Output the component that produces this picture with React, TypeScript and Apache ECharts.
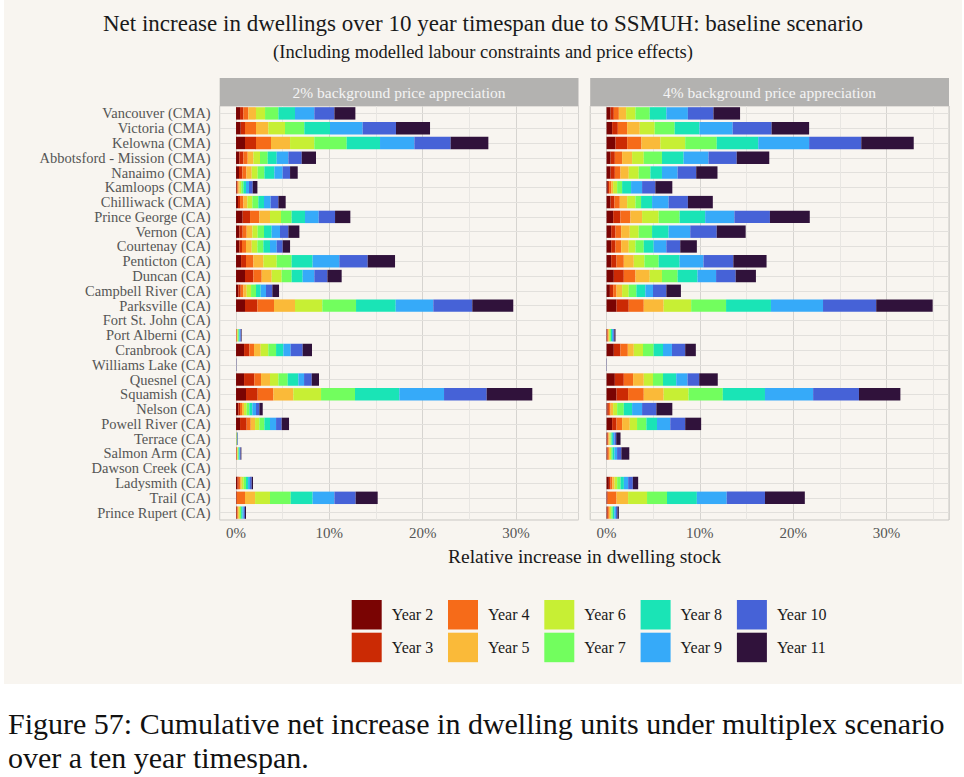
import React, { useEffect, useRef } from "react";
import * as echarts from "echarts";

const years = ["Year 2", "Year 3", "Year 4", "Year 5", "Year 6", "Year 7", "Year 8", "Year 9", "Year 10", "Year 11"];
const yearColors = ["#7A0403", "#CB2A04", "#F66B19", "#FABA39", "#C7EF34", "#72FE5E", "#1AE4B6", "#36AAF9", "#4662D7", "#30123B"];

const cities = [
  "Vancouver (CMA)", "Victoria (CMA)", "Kelowna (CMA)", "Abbotsford - Mission (CMA)", "Nanaimo (CMA)",
  "Kamloops (CMA)", "Chilliwack (CMA)", "Prince George (CA)", "Vernon (CA)", "Courtenay (CA)",
  "Penticton (CA)", "Duncan (CA)", "Campbell River (CA)", "Parksville (CA)", "Fort St. John (CA)",
  "Port Alberni (CA)", "Cranbrook (CA)", "Williams Lake (CA)", "Quesnel (CA)", "Squamish (CA)",
  "Nelson (CA)", "Powell River (CA)", "Terrace (CA)", "Salmon Arm (CA)", "Dawson Creek (CA)",
  "Ladysmith (CA)", "Trail (CA)", "Prince Rupert (CA)",
];

const panelTitles = ["2% background price appreciation", "4% background price appreciation"];

// Yearly increments (% of dwelling stock), rows follow `cities`, columns follow `years`
const growth2: number[][] = [
  [0.43, 0.36, 0.53, 0.82, 0.97, 1.43, 1.78, 2.07, 2.15, 2.25],
  [0.5, 0.46, 1.18, 1.32, 1.79, 2.07, 2.75, 3.5, 3.57, 3.65],
  [0.96, 1.18, 1.61, 2.04, 2.6, 3.47, 3.57, 3.68, 3.89, 4.04],
  [0.36, 0.43, 0.46, 0.61, 0.71, 0.82, 0.97, 1.25, 1.43, 1.53],
  [0.32, 0.36, 0.43, 0.57, 0.64, 0.72, 1.07, 0.89, 0.79, 0.82],
  [0.07, 0.07, 0.11, 0.14, 0.18, 0.22, 0.28, 0.32, 0.4, 0.5],
  [0.21, 0.22, 0.36, 0.42, 0.54, 0.64, 0.61, 0.71, 0.83, 0.78],
  [0.71, 0.79, 1.0, 1.14, 1.18, 1.14, 1.43, 1.47, 1.75, 1.64],
  [0.36, 0.35, 0.43, 0.61, 0.57, 0.68, 0.82, 0.89, 0.9, 1.18],
  [0.36, 0.28, 0.43, 0.61, 0.61, 0.64, 0.71, 0.72, 0.64, 0.79],
  [0.54, 0.53, 0.79, 1.07, 1.43, 1.6, 2.25, 2.86, 3.04, 2.93],
  [0.96, 0.9, 0.89, 1.07, 1.07, 1.07, 1.18, 1.25, 1.4, 1.53],
  [0.25, 0.25, 0.29, 0.35, 0.47, 0.53, 0.5, 0.57, 0.68, 0.72],
  [0.96, 1.33, 1.78, 2.25, 2.93, 3.61, 4.25, 4.03, 4.18, 4.39],
  [0, 0, 0, 0, 0, 0, 0, 0, 0, 0],
  [0.02, 0.03, 0.04, 0.05, 0.07, 0.08, 0.08, 0.09, 0.08, 0.06],
  [0.86, 0.57, 0.5, 0.71, 0.82, 0.83, 0.78, 0.79, 1.28, 1.0],
  [0, 0, 0, 0, 0, 0, 0, 0, 0.02, 0.02],
  [0.86, 1.1, 0.72, 0.96, 0.9, 1.0, 1.14, 0.61, 0.82, 0.78],
  [1.07, 1.25, 1.68, 2.14, 2.97, 3.64, 4.75, 4.79, 4.57, 4.89],
  [0.25, 0.18, 0.21, 0.22, 0.28, 0.29, 0.32, 0.39, 0.36, 0.36],
  [0.43, 0.71, 0.43, 0.47, 0.46, 0.54, 0.6, 0.65, 0.6, 0.79],
  [0.01, 0.01, 0.01, 0.02, 0.02, 0.02, 0.03, 0.03, 0.03, 0.02],
  [0.03, 0.03, 0.04, 0.05, 0.06, 0.07, 0.07, 0.08, 0.07, 0.07],
  [0, 0, 0, 0, 0, 0, 0, 0, 0, 0],
  [0.14, 0.15, 0.14, 0.18, 0.21, 0.25, 0.22, 0.21, 0.18, 0.14],
  [0.05, 0.05, 0.86, 1.08, 1.6, 2.22, 2.35, 2.33, 2.28, 2.36],
  [0.06, 0.06, 0.08, 0.1, 0.12, 0.13, 0.14, 0.14, 0.12, 0.12],
];

const growth4: number[][] = [
  [0.43, 0.35, 0.54, 0.78, 1.0, 1.53, 1.78, 2.31, 2.74, 2.85],
  [0.6, 0.61, 1.0, 1.35, 1.6, 2.14, 2.66, 3.56, 4.17, 4.02],
  [0.96, 1.25, 1.53, 2.03, 2.66, 3.38, 4.45, 5.45, 5.59, 5.62],
  [0.43, 0.46, 0.78, 1.07, 1.25, 1.95, 2.32, 2.67, 3.02, 3.49],
  [0.43, 0.46, 0.6, 0.89, 1.07, 1.25, 1.24, 1.68, 1.99, 2.28],
  [0.14, 0.14, 0.22, 0.21, 0.43, 0.53, 0.96, 1.18, 1.42, 1.82],
  [0.43, 0.42, 0.57, 0.79, 0.89, 0.6, 1.18, 1.77, 2.07, 2.67],
  [0.71, 0.78, 1.07, 1.25, 1.78, 2.24, 2.74, 3.13, 3.81, 4.27],
  [0.5, 0.46, 0.61, 0.92, 0.96, 1.43, 1.77, 2.32, 2.84, 3.1],
  [0.5, 0.46, 0.61, 0.81, 0.72, 0.89, 1.06, 1.36, 1.49, 1.78],
  [0.5, 0.57, 0.78, 1.07, 1.14, 1.53, 2.24, 2.56, 3.2, 3.56],
  [0.78, 1.07, 1.25, 1.53, 1.31, 1.68, 2.13, 1.99, 2.1, 2.17],
  [0.36, 0.35, 0.36, 0.6, 0.71, 0.82, 0.96, 0.82, 1.43, 1.56],
  [1.07, 1.31, 1.61, 2.13, 2.95, 3.74, 4.81, 5.58, 5.7, 6.05],
  [0, 0, 0, 0, 0, 0, 0, 0, 0, 0],
  [0.05, 0.06, 0.07, 0.08, 0.1, 0.11, 0.12, 0.13, 0.12, 0.12],
  [0.78, 0.71, 0.79, 0.64, 0.99, 1.14, 1.0, 0.96, 1.42, 1.14],
  [0, 0, 0, 0, 0, 0, 0, 0, 0.02, 0.02],
  [0.89, 0.96, 1.0, 1.14, 0.99, 1.07, 1.42, 1.21, 1.25, 1.99],
  [1.07, 1.24, 1.68, 2.13, 2.67, 3.67, 4.52, 5.16, 4.91, 4.44],
  [0.11, 0.14, 0.18, 0.28, 0.43, 0.71, 0.89, 1.07, 1.53, 1.71],
  [0.6, 0.47, 0.6, 0.82, 0.78, 1.0, 1.14, 1.42, 1.6, 1.71],
  [0.07, 0.07, 0.07, 0.11, 0.11, 0.11, 0.14, 0.18, 0.18, 0.46],
  [0.07, 0.07, 0.11, 0.11, 0.14, 0.14, 0.21, 0.28, 0.46, 0.85],
  [0, 0, 0, 0, 0, 0, 0, 0, 0, 0],
  [0.25, 0.18, 0.18, 0.25, 0.28, 0.36, 0.36, 0.46, 0.5, 0.57],
  [0.07, 0.07, 0.93, 1.24, 2.03, 2.14, 3.2, 3.2, 4.1, 4.27],
  [0.07, 0.08, 0.1, 0.12, 0.14, 0.16, 0.17, 0.17, 0.16, 0.15],
];

const minorTicks = [5, 15, 25, 35];

const FONT = "Liberation Serif";

export default function App() {
  const ref = useRef<HTMLDivElement>(null);

  useEffect(() => {
    if (!ref.current) return;
    const chart = echarts.init(ref.current, undefined, { renderer: "svg" });

    const panelData = [growth2, growth4];
    const gridLefts = [219.7, 590.2];
    const gridW = 358.8;
    const gridTop = 106;
    const gridH = 414;

    const series: any[] = [];
    panelData.forEach((rows, p) => {
      series.push({
        type: "scatter",
        xAxisIndex: p,
        yAxisIndex: p,
        data: [],
        silent: true,
        z: 1,
        markLine: {
          silent: true,
          symbol: ["none", "none"],
          label: { show: false },
          z: 1,
          data: [
            ...cities.map((c) => ({ yAxis: c, lineStyle: { color: "#e2e0dc", width: 1, type: "solid" } })),
            ...minorTicks.map((v) => ({ xAxis: v, lineStyle: { color: "#e8e6e2", width: 1, type: "solid" } })),
          ],
        },
      });
      years.forEach((y, i) => {
        series.push({
          type: "bar",
          name: y,
          stack: "panel" + p,
          xAxisIndex: p,
          yAxisIndex: p,
          barCategoryGap: "16%",
          z: 10,
          itemStyle: { color: yearColors[i] },
          data: rows.map((r) => r[i]),
        });
      });
    });

    const legends = years.map((y, i) => ({
      data: [y],
      left: 351.7 + Math.floor(i / 2) * 96.3,
      top: i % 2 === 0 ? 600 : 632.7,
      orient: "horizontal",
      itemWidth: 30,
      itemHeight: 29.5,
      icon: "rect",
      padding: 0,
      selectedMode: false,
      textStyle: { fontFamily: FONT, fontSize: 16, color: "#1a1a1a", padding: [0, 0, 0, 5] },
    }));

    const option: any = {
      animation: false,
      backgroundColor: "#ffffff",
      grid: gridLefts.map((l) => ({
        left: l,
        top: gridTop,
        width: gridW,
        height: gridH,
        show: true,
        backgroundColor: "transparent",
        borderColor: "#c9c7c3",
        borderWidth: 1,
        containLabel: false,
      })),
      xAxis: gridLefts.map((_, p) => ({
        type: "value",
        gridIndex: p,
        min: -1.75,
        max: 36.7,
        axisLine: { show: false },
        axisTick: { show: false },
        axisLabel: {
          color: "#555555",
          fontFamily: FONT,
          fontSize: 15,
          margin: 5,
          formatter: (v: number) => (Math.abs(v % 10) < 1e-6 ? `${Math.round(v)}%` : ""),
        },
        splitLine: { show: true, lineStyle: { color: "#d6d4d0", width: 1 } },
      })),
      yAxis: gridLefts.map((_, p) => ({
        type: "category",
        gridIndex: p,
        data: cities,
        inverse: true,
        axisLine: { show: false },
        axisTick: { show: p === 0, length: 4, alignWithLabel: true, lineStyle: { color: "#9a9a9a" } },
        axisLabel: {
          show: p === 0,
          color: "#555555",
          fontFamily: FONT,
          fontSize: 14.5,
          lineHeight: 14,
          margin: 9,
          interval: 0,
        },
        splitLine: { show: false },
      })),
      legend: legends,
      graphic: [
        { type: "rect", silent: true, z: -100, shape: { x: 4, y: 0, width: 958, height: 684 }, style: { fill: "#f8f5f0" } },
        ...gridLefts.map((l, p) => ({
          type: "group",
          silent: true,
          children: [
            { type: "rect", shape: { x: l, y: 78, width: gridW, height: 28 }, style: { fill: "#b3b2b0" } },
            {
              type: "text",
              style: {
                text: panelTitles[p],
                x: l + gridW / 2,
                y: 92.5,
                align: "center",
                verticalAlign: "middle",
                fill: "#f4f4f4",
                fontFamily: FONT,
                fontSize: 15.5,
              },
            },
          ],
        })),
        {
          type: "text",
          silent: true,
          style: {
            text: "Net increase in dwellings over 10 year timespan due to SSMUH: baseline scenario",
            x: 483,
            y: 23,
            align: "center",
            verticalAlign: "middle",
            fill: "#1a1a1a",
            fontFamily: FONT,
            fontSize: 23,
          },
        },
        {
          type: "text",
          silent: true,
          style: {
            text: "(Including modelled labour constraints and price effects)",
            x: 483,
            y: 52,
            align: "center",
            verticalAlign: "middle",
            fill: "#1a1a1a",
            fontFamily: FONT,
            fontSize: 18.5,
          },
        },
        {
          type: "text",
          silent: true,
          style: {
            text: "Relative increase in dwelling stock",
            x: 584.5,
            y: 556,
            align: "center",
            verticalAlign: "middle",
            fill: "#1a1a1a",
            fontFamily: FONT,
            fontSize: 19.5,
          },
        },
        {
          type: "text",
          silent: true,
          style: {
            text: "Figure 57: Cumulative net increase in dwelling units under multiplex scenario",
            x: 8,
            y: 723,
            align: "left",
            verticalAlign: "middle",
            fill: "#111111",
            fontFamily: FONT,
            fontSize: 30,
          },
        },
        {
          type: "text",
          silent: true,
          style: {
            text: "over a ten year timespan.",
            x: 8,
            y: 757,
            align: "left",
            verticalAlign: "middle",
            fill: "#111111",
            fontFamily: FONT,
            fontSize: 30,
          },
        },
      ],
      series,
    };

    chart.setOption(option);
    return () => chart.dispose();
  }, []);

  return <div ref={ref} style={{ position: "absolute", left: 0, top: 0, width: 964, height: 777 }} />;
}
